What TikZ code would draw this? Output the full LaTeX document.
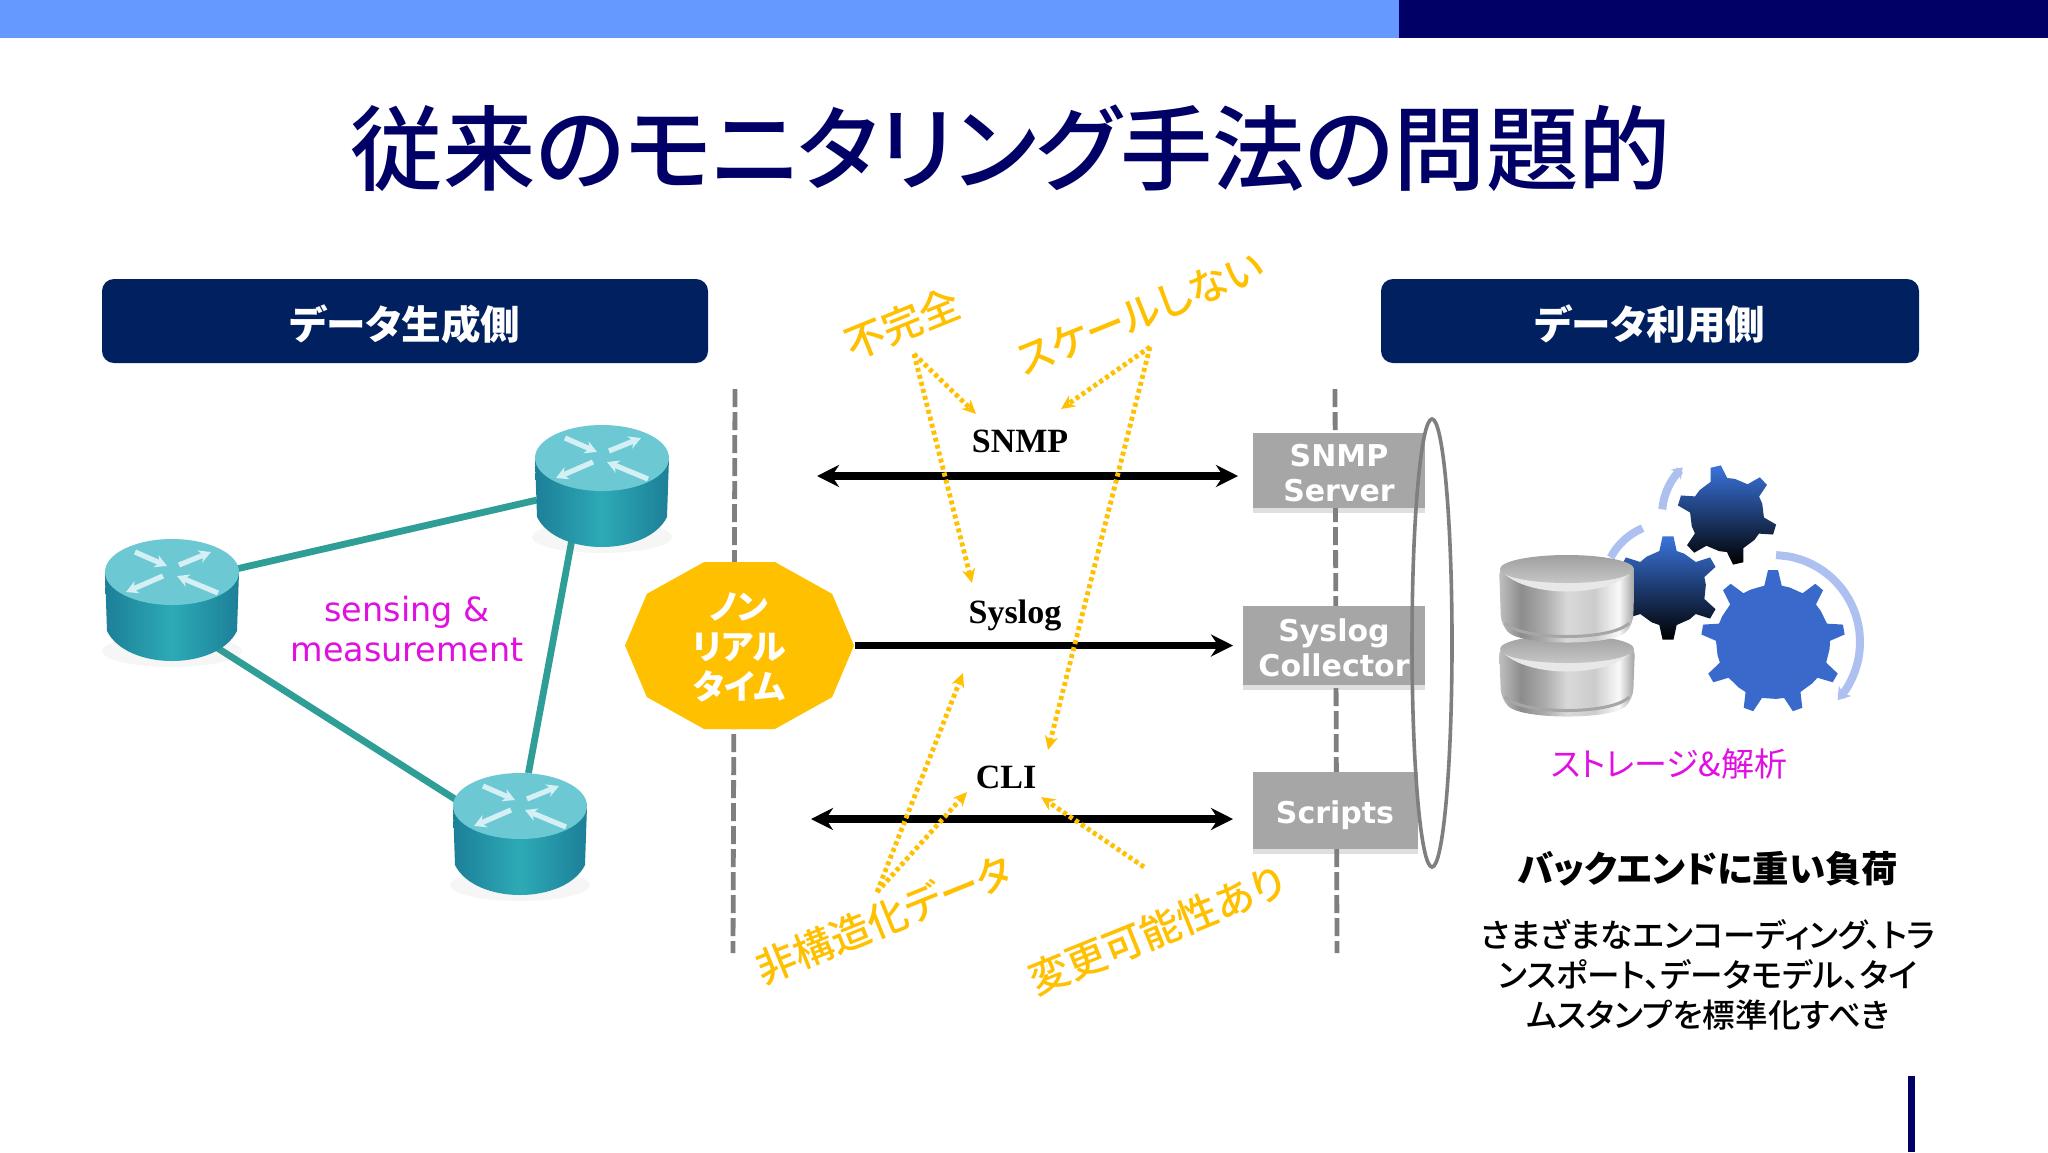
\documentclass[tikz,border=0pt]{standalone}
\usepackage{fontspec}
\setmainfont[RawFeature=+palt]{Noto Sans CJK JP}
\newfontfamily\medjp[RawFeature=+palt]{Noto Sans CJK JP Medium}
\newfontfamily\latinsans{DejaVu Sans}
\newfontfamily\latinserif{Liberation Serif}
\usetikzlibrary{arrows.meta,shapes.geometric,shadows}

\definecolor{barblue}{HTML}{6699FF}
\definecolor{navy}{HTML}{000066}
\definecolor{headblue}{HTML}{002060}
\definecolor{amber}{HTML}{FFC000}
\definecolor{linkteal}{HTML}{2E9E96}
\definecolor{pinkish}{HTML}{E010E0}
\definecolor{boxgray}{HTML}{A6A6A6}
\definecolor{rimgray}{HTML}{7F7F7F}
\definecolor{gearblue}{HTML}{3A69CC}
\definecolor{geartop}{HTML}{3A74DC}
\definecolor{arcblue}{HTML}{AEC0F0}
\definecolor{routerside}{HTML}{1C7F98}
\definecolor{routermid}{HTML}{2DAAB6}
\definecolor{routertop}{HTML}{6CC8D2}
\definecolor{routerarrow}{HTML}{D4F0F4}

\pgfdeclarehorizontalshading{silver}{100bp}{
  color(0bp)=(gray!50); color(25bp)=(gray!50); color(33bp)=(gray!90); color(42bp)=(gray!65);
  color(50bp)=(gray!30); color(60bp)=(gray!40); color(69bp)=(gray!5); color(75bp)=(gray!75); color(100bp)=(gray!75)}

\tikzset{
  header/.style={fill=headblue,rounded corners=6pt,text=white,font=\bfseries\fontsize{19.8}{24}\selectfont,inner sep=0pt},
  routernode/.style={ellipse,minimum width=67pt,minimum height=60pt,inner sep=0pt},
  link/.style={draw=linkteal,line width=3.4pt},
  divider/.style={draw=rimgray,line width=2.4pt,dash pattern=on 9pt off 2.5pt},
  wire/.style={line width=3.6pt,{Stealth[length=11pt,width=11pt]}-{Stealth[length=11pt,width=11pt]}},
  proto/.style={font=\latinserif\bfseries\fontsize{17}{20}\selectfont},
  collector/.style={fill=boxgray,text=white,align=center,inner sep=0pt,
    font=\latinsans\bfseries\fontsize{15}{17.5}\selectfont,
    drop shadow={shadow xshift=0pt,shadow yshift=-2.5pt,opacity=.25,fill=gray}},
  remark/.style={text=amber,font=\medjp\fontsize{20}{24}\selectfont,rotate=22},
  hint/.style={draw=amber,line width=2.4pt,dash pattern=on 2pt off 1.6pt,-{Stealth[length=7pt,width=6.5pt]}},
  spin/.style={draw=arcblue,line width=4pt},
}

\newcommand{\lowered}[1]{\raisebox{-1.5pt}[\height][\depth]{#1}}

% one router, top disc at the upper part of the node
\newcommand{\router}[1]{
  \begin{scope}[shift={(#1)}]
    \fill[gray,opacity=.07] (0,52) ellipse [x radius=70,y radius=16];
    \shade[left color=routerside,right color=routerside,middle color=routermid]
      (-67,-27) -- (-65,32) .. controls (-45,72) and (45,72) .. (65,32) -- (67,-27) -- cycle;
    \fill[routertop] (0,-27) ellipse [x radius=67,y radius=33];
    \foreach \ax/\ay/\bx/\by in {-37/-47/-5/-33, 7/-34/39/-47, -9/-23/-46/-7, 46/-6/5/-23}
      \draw[routerarrow,line width=2.6pt,-{Stealth[length=6pt,width=6.5pt]}] (\ax,\ay) -- (\bx,\by);
  \end{scope}
}

% toothed wheel: centre x, centre y, body radius, outer radius, teeth, first tooth angle
\newcommand{\gearpath}[6]{
  ({#1+#3*cos(#6-0.42*360/#5)},{#2-#3*sin(#6-0.42*360/#5)})
  \foreach \k in {1,...,#5}{
    -- ({#1+#3*cos(#6+(\k-1)*360/#5-0.22*360/#5)},{#2-#3*sin(#6+(\k-1)*360/#5-0.22*360/#5)})
    -- ({#1+#4*cos(#6+(\k-1)*360/#5-0.1*360/#5)},{#2-#4*sin(#6+(\k-1)*360/#5-0.1*360/#5)})
    -- ({#1+#4*cos(#6+(\k-1)*360/#5+0.1*360/#5)},{#2-#4*sin(#6+(\k-1)*360/#5+0.1*360/#5)})
    -- ({#1+#3*cos(#6+(\k-1)*360/#5+0.22*360/#5)},{#2-#3*sin(#6+(\k-1)*360/#5+0.22*360/#5)})
    -- ({#1+#3*cos(#6+(\k-1)*360/#5+0.58*360/#5)},{#2-#3*sin(#6+(\k-1)*360/#5+0.58*360/#5)})
  } -- cycle
}

% one silver drum: centre x, top y, bottom y
\newcommand{\drum}[3]{
  \shade[shading=silver,rounded corners=5pt]
    (#1-68,#2+10) -- (#1-66,#3-18) .. controls (#1-45,#3+3) and (#1+45,#3+3) .. (#1+66,#3-18) -- (#1+68,#2+10) -- cycle;
  \fill[gray!18] (#1-67,#2+14) .. controls (#1-45,#2+44) and (#1+45,#2+44) .. (#1+67,#2+14) -- cycle;
  \shade[top color=gray!75,bottom color=gray!45] (#1,#2+14) ellipse [x radius=67,y radius=14];
  \draw[gray!70,line width=1.5pt] (#1-62,#3-20) .. controls (#1-45,#3-2) and (#1+45,#3-2) .. (#1+62,#3-20);
}

\begin{document}
\begin{tikzpicture}[x=0.5pt,y=-0.5pt]
  \useasboundingbox (0,0) rectangle (2048,1152);
  \fill[white] (0,0) rectangle (2048,1152);

  % top band and corner mark
  \fill[barblue] (0,0) rectangle (1399,38);
  \fill[navy] (1399,0) rectangle (2048,38);
  \fill[navy] (1908,1076) rectangle (1915,1152);

  \node[text=navy,font=\medjp\fontsize{46.2}{52}\selectfont] (title) at (1011,148) {従来のモニタリング手法の問題的};

  \node[header,minimum width=303pt,minimum height=42pt] (hleft) at (405,321) {\lowered{データ生成側}};
  \node[header,minimum width=269pt,minimum height=42pt] (hright) at (1650,321) {\lowered{データ利用側}};

  % routers
  \node[routernode] (r1) at (172,599) {};
  \node[routernode] (r2) at (602,485) {};
  \node[routernode] (r3) at (520,833) {};
  \draw[link] (r1.26) -- (r2.193);
  \draw[link] (r2.241) -- (r3.82);
  \draw[link] (r1.-48) -- (r3.153);
  \router{r1}
  \router{r2}
  \router{r3}
  \node[text=pinkish,align=center,font=\latinsans\fontsize{16.7}{20}\selectfont] (sense) at (407,629) {sensing \&\\measurement};

  % dividers
  \coordinate (dla) at (735,389);
  \coordinate (dlb) at (733,953);
  \coordinate (dra) at (1335,389);
  \coordinate (drb) at (1337,953);
  \draw[divider] (dla) -- (dlb);
  \draw[divider] (dra) -- (drb);

  \node[regular polygon,regular polygon sides=10,fill=amber,inner sep=0pt,
        minimum size=87.8pt,xscale=1.304] (rt) at (739.5,645.5) {};
  \node[text=white,align=center,font=\bfseries\fontsize{17}{20}\selectfont] (rtlabel) at (739,647) {ノン\\リアル\\タイム};

  % boxes on the right
  \node[collector,minimum width=86pt,minimum height=37.5pt] (snmpbox) at (1339,470) {\lowered{SNMP}\\\lowered{Server}};
  \node[collector,minimum width=91pt,minimum height=39.5pt] (syslogbox) at (1334,645) {\lowered{Syslog}\\\lowered{Collector}};
  \node[collector,minimum width=82.5pt,minimum height=38.5pt] (scriptbox) at (1335,810) {\raisebox{-2.5pt}[\height][\depth]{Scripts}};
  \node[ellipse,draw=rimgray,line width=1.8pt,minimum width=20pt,minimum height=224pt,inner sep=0pt] (ring) at (1432,643) {};

  % protocols
  \coordinate (snmpl) at (817,476);
  \coordinate (snmpr) at (1238,476);
  \coordinate (clil) at (811,819);
  \coordinate (clir) at (1233,819);
  \coordinate (sysr) at (1233,645.5);
  \draw[wire] (snmpl) -- (snmpr);
  \draw[line width=3.6pt,-{Stealth[length=11pt,width=11pt]}] (rt.east) -- (sysr);
  \draw[wire] (clil) -- (clir);
  \node[proto] (snmp) at (1020,441) {SNMP};
  \node[proto] (syslog) at (1015,615) {Syslog};
  \node[proto] (cli) at (1006,777) {CLI};

  % remarks
  \node[remark] (incomplete) at (902,324) {不完全};
  \node[remark] (noscale) at (1140,313) {スケールしない};
  \node[remark] (unstruct) at (884,919) {非構造化データ};
  \node[remark] (mutable) at (1157,930) {変更可能性あり};

  \coordinate (fromi) at (914,354);
  \coordinate (froms) at (1150,347);
  \coordinate (fromu) at (877,892);
  \coordinate (fromm) at (1144,867);
  \coordinate (toia) at (976,414);
  \coordinate (toib) at (972,583);
  \coordinate (tosa) at (1061,409);
  \coordinate (tosb) at (1048,750);
  \coordinate (toua) at (963,673);
  \coordinate (toub) at (967,792);
  \coordinate (tom) at (1041,797);
  \foreach \a/\b in {fromi/toia,fromi/toib,froms/tosa,froms/tosb,fromu/toua,fromu/toub,fromm/tom}
    \draw[hint] (\a) -- (\b);

  % gears and storage
  \shade[top color=geartop,bottom color=black] \gearpath{1668}{588}{38}{52}{6}{90};
  \shade[top color=geartop,bottom color=black] \gearpath{1727}{515}{37}{50}{6}{103};
  \fill[gearblue] \gearpath{1773}{642}{57}{72}{9}{90};
  \draw[spin,-{Stealth[length=6pt,width=8pt]}] plot[smooth,domain=88:-42,samples=14] ({1773+87*cos(\x)},{642-87*sin(\x)});
  \draw[spin] plot[smooth,domain=152:113,samples=6] ({1668+65*cos(\x)},{588-65*sin(\x)});
  \draw[spin,-{Stealth[length=5pt,width=7pt]}] plot[smooth,domain=175:133,samples=6] ({1727+65*cos(\x)},{515-65*sin(\x)});
  \drum{1567}{635}{717}
  \drum{1567}{555}{643}

  \node[text=pinkish,font=\fontsize{16.5}{20}\selectfont] (store) at (1669,764) {ストレージ\&解析};
  \node[font=\bfseries\fontsize{18.2}{22}\selectfont] (load) at (1708,869) {バックエンドに重い負荷};
  \node[align=center,font=\medjp\fontsize{16.3}{20}\selectfont] (advice) at (1708,975) {さまざまなエンコーディング、トラ\\ンスポート、データモデル、タイ\\ムスタンプを標準化すべき};
\end{tikzpicture}
\end{document}
